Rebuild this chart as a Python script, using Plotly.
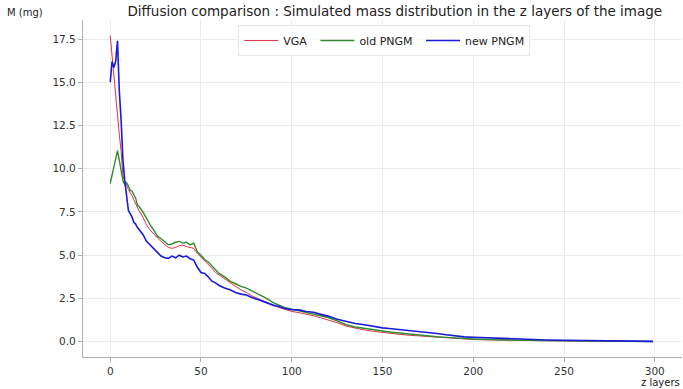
import plotly.graph_objects as go

z_layers = [0, 1, 2, 3, 4, 5, 6, 7, 8, 9, 10, 11, 12, 13, 14, 15, 16, 18, 20, 22, 24, 26, 28,
            30, 32, 34, 36, 38, 40, 42, 44, 46, 48, 50, 52, 54, 56, 58, 60, 63, 66, 69, 72, 75,
            78, 81, 84, 87, 90, 93, 96, 100, 104, 108, 112, 116, 120, 125, 130, 135, 140, 145,
            150, 155, 160, 165, 170, 175, 180, 185, 190, 195, 200, 210, 220, 230, 240, 250,
            260, 270, 280, 290, 299]

vga = [17.7, 16.5, 15.2, 14.0, 13.0, 12.0, 11.0, 9.6, 9.3, 9.0, 8.8, 8.6, 8.45, 8.2, 7.95, 7.75,
       7.55, 7.2, 6.75, 6.45, 6.2, 6.0, 5.8, 5.6, 5.45, 5.4, 5.45, 5.55, 5.58, 5.5, 5.45, 5.4,
       5.1, 4.9, 4.65, 4.45, 4.25, 4.0, 3.85, 3.6, 3.4, 3.2, 3.0, 2.85, 2.65, 2.5, 2.38, 2.25,
       2.1, 1.98, 1.88, 1.75, 1.68, 1.6, 1.5, 1.38, 1.27, 1.1, 0.9, 0.78, 0.68, 0.6, 0.53, 0.47,
       0.42, 0.37, 0.33, 0.29, 0.25, 0.21, 0.18, 0.15, 0.13, 0.1, 0.08, 0.06, 0.05, 0.04, 0.03,
       0.02, 0.02, 0.01, 0.01]

old_pngm = [9.15, 9.6, 10.1, 10.6, 11.05, 10.5, 9.8, 9.3, 9.1, 9.2, 9.0, 8.75, 8.7, 8.5, 8.3,
            7.9, 7.8, 7.5, 7.1, 6.75, 6.45, 6.1, 5.95, 5.75, 5.6, 5.65, 5.75, 5.8, 5.7, 5.75,
            5.6, 5.7, 5.2, 5.0, 4.75, 4.6, 4.4, 4.2, 3.95, 3.75, 3.5, 3.35, 3.2, 3.1, 2.95, 2.8,
            2.62, 2.45, 2.25, 2.12, 1.98, 1.88, 1.78, 1.7, 1.6, 1.5, 1.4, 1.2, 0.98, 0.85, 0.76,
            0.68, 0.62, 0.55, 0.49, 0.43, 0.38, 0.34, 0.29, 0.25, 0.21, 0.18, 0.16, 0.12, 0.09,
            0.07, 0.06, 0.05, 0.04, 0.03, 0.02, 0.02, 0.01]

new_pngm = [15.0, 16.2, 15.85, 16.2, 17.4, 14.5, 12.8, 10.5, 9.3, 8.4, 7.6, 7.4, 7.2, 6.9, 6.8,
            6.6, 6.45, 6.2, 5.8, 5.6, 5.4, 5.2, 4.95, 4.85, 4.82, 4.95, 4.85, 5.0, 4.9, 4.95,
            4.8, 4.72, 4.3, 4.0, 3.95, 3.75, 3.5, 3.4, 3.25, 3.1, 3.0, 2.85, 2.75, 2.7, 2.55,
            2.45, 2.32, 2.2, 2.1, 2.03, 1.92, 1.85, 1.84, 1.75, 1.7, 1.58, 1.48, 1.3, 1.17, 1.05,
            0.98, 0.88, 0.8, 0.75, 0.7, 0.65, 0.6, 0.52, 0.47, 0.4, 0.33, 0.28, 0.26, 0.21, 0.17,
            0.13, 0.1, 0.08, 0.06, 0.05, 0.03, 0.03, 0.02]

x_ticks = [0, 50, 100, 150, 200, 250, 300]
y_ticks = [0.0, 2.5, 5.0, 7.5, 10.0, 12.5, 15.0, 17.5]

fig = go.Figure()
fig.add_trace(go.Scatter(x=z_layers, y=vga, mode="lines", name="VGA ",
                         line=dict(color="#e0304a", width=1)))
fig.add_trace(go.Scatter(x=z_layers, y=old_pngm, mode="lines", name="old PNGM ",
                         line=dict(color="#2e8b2e", width=1.4)))
fig.add_trace(go.Scatter(x=z_layers, y=new_pngm, mode="lines", name="new PNGM",
                         line=dict(color="#1a1ad8", width=1.6)))

axis_common = dict(showgrid=True, gridcolor="#ebebeb", gridwidth=1, zeroline=False,
                   showline=True, linecolor="#b0b0b0", linewidth=1.2,
                   ticks="outside", ticklen=4, tickcolor="#b0b0b0",
                   tickfont=dict(family="DejaVu Sans", size=10.5, color="#333333"))

fig.update_layout(
    width=683, height=389,
    margin=dict(l=83, r=1, t=20, b=32),
    paper_bgcolor="white", plot_bgcolor="white",
    font=dict(family="DejaVu Sans", color="#222222"),
    title=dict(text="Diffusion comparison : Simulated mass distribution in the z layers of the image",
               x=0.578, xanchor="center", y=0.97, yanchor="middle",
               font=dict(family="DejaVu Sans", size=13.5, color="#222222")),
    xaxis=dict(range=[-15, 315], tickvals=x_ticks, ticktext=[str(v) for v in x_ticks],
               **axis_common),
    yaxis=dict(range=[-0.885, 18.6], tickvals=y_ticks, ticktext=[f"{v:.1f}" for v in y_ticks],
               **axis_common),
    legend=dict(orientation="h", x=0.503, xanchor="center", y=0.985, yanchor="top",
                bgcolor="rgba(255,255,255,0.8)", bordercolor="#e6e6e6", borderwidth=1,
                font=dict(family="DejaVu Sans", size=11, color="#222222"),
                itemwidth=34, tracegroupgap=0),
    showlegend=True,
)

fig.add_annotation(text="M (mg)", xref="paper", yref="paper", x=-0.13, y=1.0,
                   xanchor="left", yanchor="bottom", showarrow=False,
                   font=dict(family="DejaVu Sans", size=10, color="#222222"))
fig.add_annotation(text="z layers", xref="paper", yref="paper", x=1.0, y=-0.054,
                   xanchor="right", yanchor="top", showarrow=False,
                   font=dict(family="DejaVu Sans", size=10, color="#222222"))

fig.write_html("out.html")
